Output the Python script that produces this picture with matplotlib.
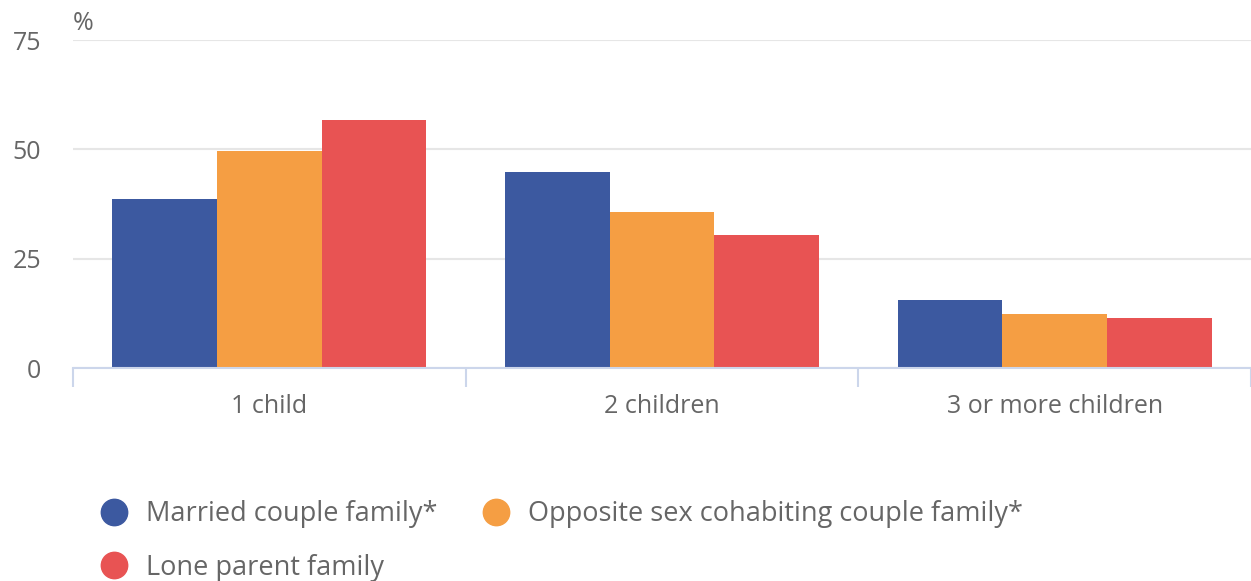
import matplotlib.pyplot as plt
from matplotlib.lines import Line2D
import numpy as np

plt.rcParams['font.family'] = ['Open Sans', 'DejaVu Sans']

categories = ['1 child', '2 children', '3 or more children']
series_names = ['Married couple family*', 'Opposite sex cohabiting couple family*', 'Lone parent family']
married = [38.7, 44.8, 15.6]
cohabiting = [49.6, 35.6, 12.4]
lone_parent = [56.7, 30.4, 11.5]
colors = ['#3c59a0', '#f59e43', '#e85353']
yticks = [0, 25, 50, 75]

fig = plt.figure(figsize=(12.51, 5.81), dpi=100)
ax = fig.add_axes([73 / 1251, 1 - 368 / 581, 1 - 73 / 1251, (368 - 40) / 581])

x = np.arange(len(categories))
w = 0.8 / 3
for i, vals in enumerate([married, cohabiting, lone_parent]):
    ax.bar(x + (i - 1) * w, vals, width=w, color=colors[i], linewidth=0, zorder=3)

ax.set_xlim(-0.5, len(categories) - 0.5)
ax.set_ylim(0, 75)
ax.set_yticks(yticks)
ax.yaxis.grid(True, color='#e6e6e6', linewidth=1.5, zorder=0)
ax.tick_params(axis='y', length=0, pad=23, labelsize=18, labelcolor='#666666')

# category labels centred, tick marks on the category boundaries
ax.set_xticks(x)
ax.set_xticklabels(categories)
ax.tick_params(axis='x', length=0, pad=18.5, labelsize=18, labelcolor='#666666')
ax.set_xticks(np.arange(-0.5, len(categories)), minor=True)
ax.tick_params(axis='x', which='minor', length=14, width=1.5, color='#ccd6eb')

for side in ['top', 'right', 'left']:
    ax.spines[side].set_visible(False)
ax.spines['bottom'].set_color('#ccd6eb')
ax.spines['bottom'].set_linewidth(1.5)
ax.spines['bottom'].set_zorder(4)

fig.text(73 / 1251, 1 - 24 / 581, '%', fontsize=18, color='#666666', va='center', ha='left')

handles = [Line2D([], [], marker='o', linestyle='none', markersize=19,
                  markerfacecolor=c, markeredgecolor=c) for c in colors]
order = [0, 2, 1]
fig.legend([handles[i] for i in order], [series_names[i] for i in order],
           loc='upper left', bbox_to_anchor=(73 / 1251, 1 - 476 / 581),
           ncol=2, frameon=False, fontsize=19.5, labelcolor='#666666',
           handletextpad=0.6, columnspacing=1.55, labelspacing=0.93,
           handlelength=1.2)

fig.savefig('out.png', dpi=100)
